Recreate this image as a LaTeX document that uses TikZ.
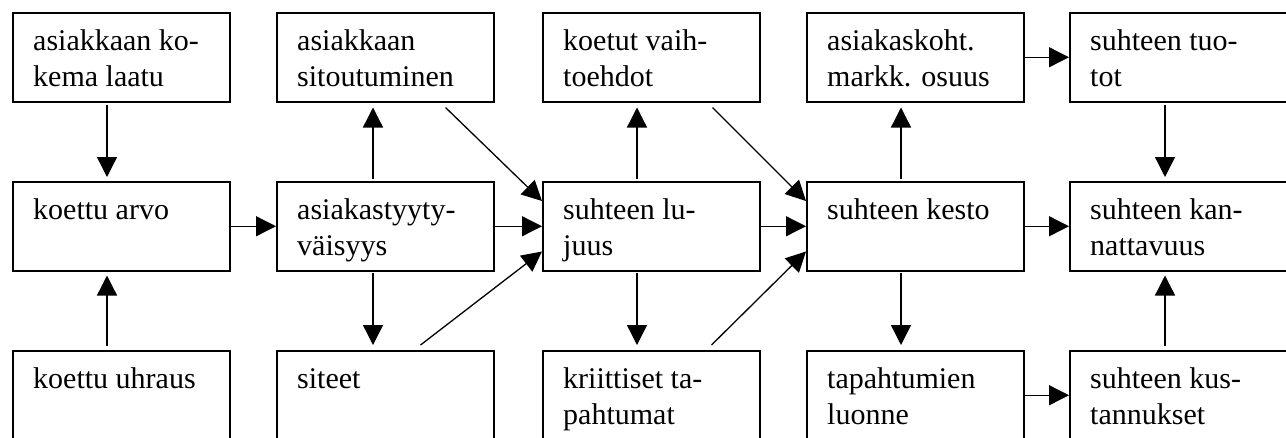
\documentclass[tikz,border=0pt]{standalone}
\usepackage{fontspec}
\setmainfont{Liberation Serif}
\usetikzlibrary{arrows.meta,calc}
\tikzset{
  boxshape/.style={draw, line width=1.5pt, minimum width=217pt, minimum height=89pt, inner sep=0pt, anchor=north west},
  boxtext/.style={inner sep=0pt, anchor=base west, font=\fontsize{30}{36}\selectfont},
  arr/.style={-{Triangle[length=20pt,width=20pt]}, line width=1.3pt}
}
\newcommand\fbx[4]{%
  \node[boxshape] (#1) at (#2,#3) {};
  \node[boxtext] (#1t) at ([xshift=21pt,yshift=-38pt]#1.north west) {\begin{tabular}[t]{@{}l@{}}#4\end{tabular}};}
\begin{document}
\begin{tikzpicture}[x=1pt,y=-1pt]
\useasboundingbox (0,0) rectangle (1286,437);
\clip (0,0) rectangle (1286,437);
% top row
\fbx{qual}{12}{12}{asiakkaan ko-\\kema laatu}
\fbx{comm}{276}{12}{asiakkaan\\sitoutuminen}
\fbx{alt}{542}{12}{koetut vaih-\\toehdot}
\fbx{share}{806}{12}{asiakaskoht.\\markk. osuus}
\fbx{rev}{1069}{12}{suhteen tuo-\\tot}
% middle row
\fbx{val}{12}{181}{koettu arvo}
\fbx{sat}{276}{181}{asiakastyyty-\\väisyys}
\fbx{str}{542}{181}{suhteen lu-\\juus}
\fbx{dur}{806}{181}{suhteen kesto}
\fbx{prof}{1069}{181}{suhteen kan-\\nattavuus}
% bottom row
\fbx{sac}{12}{350}{koettu uhraus}
\fbx{bond}{276}{350}{siteet}
\fbx{crit}{542}{350}{kriittiset ta-\\pahtumat}
\fbx{nat}{806}{350}{tapahtumien\\luonne}
\fbx{cost}{1069}{350}{suhteen kus-\\tannukset}
% vertical arrows
\draw[arr] ([xshift=95pt,yshift=-2pt]qual.south west) -- ([xshift=95pt,yshift=4pt]val.north west);
\draw[arr] ([xshift=95pt,yshift=4pt]sac.north west) -- ([xshift=95pt,yshift=-4pt]val.south west);
\draw[arr] ([xshift=97pt,yshift=2pt]sat.north west) -- ([xshift=97pt,yshift=-5pt]comm.south west);
\draw[arr] ([xshift=97pt,yshift=-1pt]sat.south west) -- ([xshift=97pt,yshift=5pt]bond.north west);
\draw[arr] ([xshift=95pt,yshift=2pt]str.north west) -- ([xshift=95pt,yshift=-5pt]alt.south west);
\draw[arr] ([xshift=95pt,yshift=-1pt]str.south west) -- ([xshift=95pt,yshift=5pt]crit.north west);
\draw[arr] ([xshift=95pt,yshift=2pt]dur.north west) -- ([xshift=95pt,yshift=-5pt]share.south west);
\draw[arr] ([xshift=95pt,yshift=-1pt]dur.south west) -- ([xshift=95pt,yshift=5pt]nat.north west);
\draw[arr] ([xshift=96pt,yshift=-2pt]rev.south west) -- ([xshift=96pt,yshift=4pt]prof.north west);
\draw[arr] ([xshift=96pt,yshift=4pt]cost.north west) -- ([xshift=96pt,yshift=-4pt]prof.south west);
% horizontal arrows
\draw[arr] (val.east) -- (sat.west);
\draw[arr] (sat.east) -- (str.west);
\draw[arr] (str.east) -- (dur.west);
\draw[arr] (dur.east) -- (prof.west);
\draw[arr] (share.east) -- (rev.west);
\draw[arr] (nat.east) -- (cost.west);
% diagonal arrows
\draw[arr] ([xshift=-49pt,yshift=-5pt]comm.south east) -- ([yshift=-20pt]str.north west);
\draw[arr] ([xshift=-74pt,yshift=5pt]bond.north east) -- ([yshift=20pt]str.south west);
\draw[arr] ([xshift=-48pt,yshift=-5pt]alt.south east) -- ([yshift=-20pt]dur.north west);
\draw[arr] ([xshift=-49pt,yshift=5pt]crit.north east) -- ([yshift=20pt]dur.south west);
\end{tikzpicture}
\end{document}
